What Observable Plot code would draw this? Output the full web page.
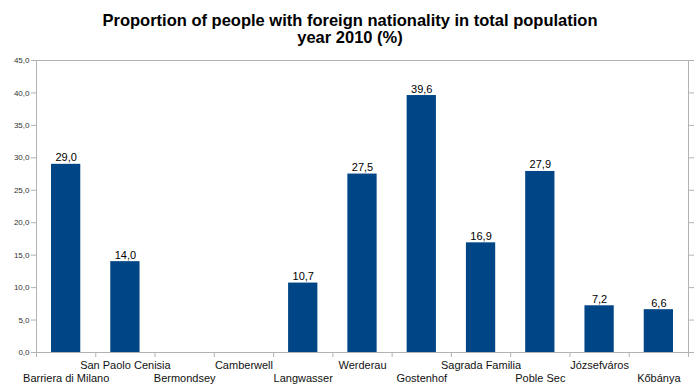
<!DOCTYPE html>
<html>
<head>
<meta charset="utf-8">
<script src="https://cdn.jsdelivr.net/npm/d3@7"></script>
<script src="https://cdn.jsdelivr.net/npm/@observablehq/plot@0.6"></script>
<style>
  body { margin: 0; background: #fff; font-family: "Liberation Sans", Arial, sans-serif; }
  #title { width: 700px; text-align: center; font-weight: bold; font-size: 16.5px; line-height: 17px; padding-top: 12px; color: #000; }
</style>
</head>
<body>
<div id="title">Proportion of people with foreign nationality in total population<br>year 2010 (%)</div>
<div id="chart"></div>
<script>
const categories = ["Barriera di Milano", "San Paolo Cenisia", "Bermondsey", "Camberwell", "Langwasser", "Werderau", "Gostenhof", "Sagrada Familia", "Poble Sec", "Józsefváros", "Kőbánya"];
const values = [29.0, 14.0, null, null, 10.7, 27.5, 39.6, 16.9, 27.9, 7.2, 6.6];
const yTicks = [0, 5, 10, 15, 20, 25, 30, 35, 40, 45];

const rows = categories.map((name, i) => ({name, value: values[i], i}));
const withValue = rows.filter(d => d.value != null);
const fmt = v => v.toFixed(1).replace(".", ",");
const grey = "#b3b3b3";

const chart = Plot.plot({
  width: 700,
  height: 344,
  marginLeft: 36,
  marginRight: 12,
  marginTop: 14,
  marginBottom: 38,
  style: {fontFamily: "'Liberation Sans', Arial, sans-serif", background: "#fff"},
  x: {domain: [0, categories.length], axis: null},
  y: {domain: [0, 45], axis: null},
  marks: [
    Plot.frame({stroke: grey}),
    Plot.axisY({anchor: "left", label: null, ticks: yTicks, tickSize: 5, tickPadding: 2, tickFormat: fmt, fontSize: 8, stroke: grey, fill: "#333"}),
    Plot.axisY({anchor: "right", label: null, ticks: yTicks, tickSize: 5, tickFormat: () => "", stroke: grey}),
    Plot.axisX({anchor: "bottom", label: null, ticks: d3.range(0, categories.length + 1), tickSize: 5, tickFormat: () => "", stroke: grey}),
    Plot.rectY(withValue, {x1: d => d.i, x2: d => d.i + 1, y: "value", fill: "#004586", insetLeft: 15, insetRight: 15}),
    Plot.text(withValue, {x: d => d.i + 0.5, y: "value", text: d => fmt(d.value), lineAnchor: "bottom", dy: -3, fontSize: 11, fill: "#000"}),
    Plot.text(rows.filter(d => d.i % 2 === 1), {x: d => d.i + 0.5, frameAnchor: "bottom", text: "name", lineAnchor: "middle", dy: 13, fontSize: 11, fill: "#111"}),
    Plot.text(rows.filter(d => d.i % 2 === 0), {x: d => d.i + 0.5, frameAnchor: "bottom", text: "name", lineAnchor: "middle", dy: 26, fontSize: 11, fill: "#111"})
  ]
});
document.getElementById("chart").appendChild(chart);
</script>
</body>
</html>
